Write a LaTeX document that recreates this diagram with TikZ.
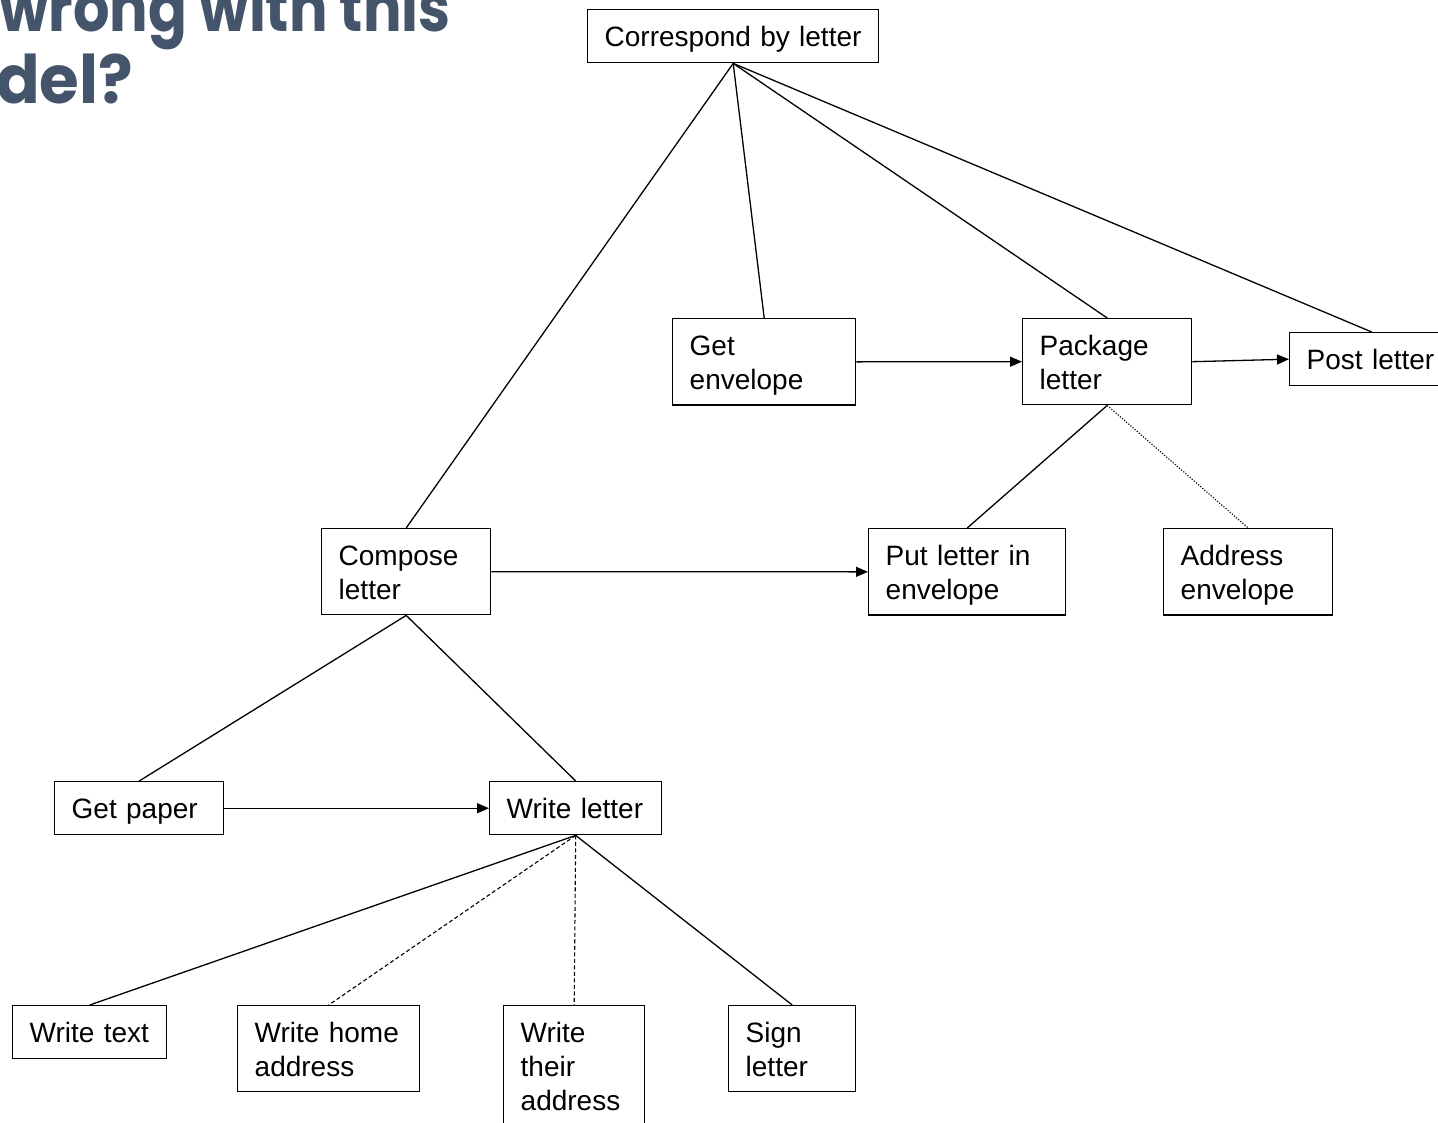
\documentclass[tikz,border=0pt]{standalone}
\usepackage{fontspec}
\setmainfont{Liberation Sans}
\newfontfamily\headfont{Poppins}
\usetikzlibrary{arrows.meta}
\definecolor{headblue}{HTML}{44546A}
\tikzset{
  box/.style={draw, line width=1.4pt, rectangle, anchor=north west, align=left,
    inner xsep=17pt, inner ysep=10pt, font=\fontsize{28}{34}\selectfont,
    execute at begin node={\rule{0pt}{26.5pt}},
    execute at end node={\rule[-5pt]{0pt}{5pt}}},
  heading/.style={anchor=base west, inner sep=0pt, text=headblue,
    font=\headfont\bfseries\fontsize{67}{72}\selectfont},
  link/.style={line width=1.3pt},
  flow/.style={line width=1.3pt, -{Triangle[length=12pt,width=10pt]}},
  dashlink/.style={line width=1.1pt, dash pattern=on 4pt off 2.5pt},
  dotlink/.style={line width=1.1pt, dash pattern=on 1.2pt off 1.6pt},
}
\begin{document}
\begin{tikzpicture}[x=1pt, y=-1pt]
\useasboundingbox (0,0) rectangle (1438,1123);
\clip (0,0) rectangle (1438,1123);

% heading, partly outside the frame
\node[heading] (h1) at (-1,32) {\scalebox{0.855}[1]{wrong with this}};
\node[heading] (h2) at (-4,104) {\scalebox{0.96}[1]{del?}};

% task boxes
\node[box, text width=257pt, minimum width=291pt, minimum height=53pt] (ce) at (587,9) {Correspond by letter};
\node[box, text width=149pt, minimum width=183pt, minimum height=86pt] (ge) at (672,318) {Get\\envelope};
\node[box, text width=135pt, minimum width=169pt, minimum height=86pt] (pk) at (1022,318) {Package\\letter};
\node[box, text width=130pt, minimum width=162pt, minimum height=53pt] (po) at (1289,332) {Post letter};
\node[box, text width=135pt, minimum width=169pt, minimum height=86pt] (cl) at (321,528) {Compose\\letter};
\node[box, text width=163pt, minimum width=197pt, minimum height=86pt] (pe) at (868,528) {Put letter in\\envelope};
\node[box, text width=135pt, minimum width=169pt, minimum height=86pt] (ae) at (1163,528) {Address\\envelope};
\node[box, text width=135pt, minimum width=169pt, minimum height=53pt] (gp) at (54,781) {Get paper};
\node[box, text width=138pt, minimum width=172pt, minimum height=53pt] (wl) at (489,781) {Write letter};
\node[box, text width=120pt, minimum width=154pt, minimum height=53pt] (wt) at (12,1005) {Write text};
\node[box, text width=148pt, minimum width=182pt, minimum height=86pt] (wh) at (237,1005) {Write home\\address};
\node[box, text width=107pt, minimum width=141pt, minimum height=120pt] (wa) at (503,1005) {Write\\their\\address};
\node[box, text width=93pt, minimum width=127pt, minimum height=86pt] (sl) at (728,1005) {Sign\\letter};

% decomposition links
\draw[link] (ce.south) -- (cl.north);
\draw[link] (ce.south) -- (ge.north);
\draw[link] (ce.south) -- (pk.north);
\draw[link] (ce.south) -- (po.north);
\draw[link] (pk.south) -- (pe.north);
\draw[dotlink] (pk.south) -- (ae.north);
\draw[link] (cl.south) -- (gp.north);
\draw[link] (cl.south) -- (wl.north);
\draw[link] (wl.south) -- (wt.north);
\draw[dashlink] (wl.south) -- (wh.north);
\draw[dashlink] (wl.south) -- (wa.north);
\draw[link] (wl.south) -- (sl.north);

% sequence arrows
\draw[flow] (ge.east) -- (pk.west);
\draw[flow] (pk.east) -- (po.west);
\draw[flow] (cl.east) -- (pe.west);
\draw[flow] (gp.east) -- (wl.west);
\end{tikzpicture}
\end{document}
